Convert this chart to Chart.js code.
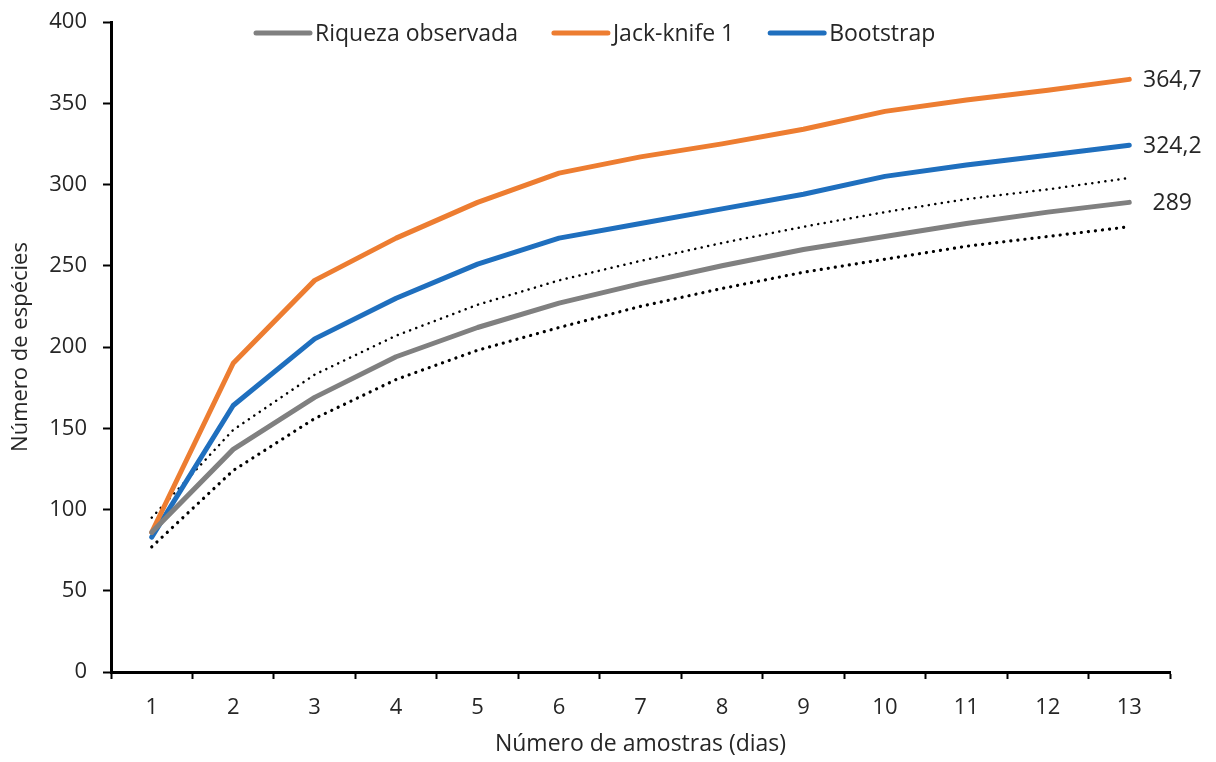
<!DOCTYPE html>
<html lang="pt-BR">
<head>
<meta charset="utf-8">
<title>Curva de acumulação de espécies</title>
<script src="https://cdn.jsdelivr.net/npm/chart.js@4.4.1/dist/chart.umd.min.js"></script>
<style>
  html, body { margin: 0; padding: 0; background: #fff; }
  #wrap { width: 1216px; height: 762px; }
</style>
</head>
<body>
<div id="wrap"><canvas id="graficoCurva" width="1216" height="762"></canvas></div>
<script>
// dias de amostragem
const amostras = ["1", "2", "3", "4", "5", "6", "7", "8", "9", "10", "11", "12", "13"];

// riqueza observada e estimadores
const riquezaObservada = [86, 137, 169, 194, 212, 227, 239, 250, 260, 268, 276, 283, 289];
const jackknife1 = [86, 190, 241, 267, 289, 307, 317, 325, 334, 345, 352, 358, 364.7];
const bootstrap = [83, 164, 205, 230, 251, 267, 276, 285, 294, 305, 312, 318, 324.2];

// intervalo de confiança da riqueza observada
const icSuperior = [95, 149, 183, 207, 226, 241, 253, 264, 274, 283, 291, 297, 304];
const icInferior = [77, 124, 156, 180, 198, 212, 225, 236, 246, 254, 262, 268, 274];

const ticksY = [0, 50, 100, 150, 200, 250, 300, 350, 400];

const fonte = "'Open Sans', 'Noto Sans', sans-serif";
const corTexto = "#262626";

// escreve o último valor das séries principais à direita da linha
const rotuloFinal = {
  id: "rotuloFinal",
  afterDatasetsDraw(chart) {
    const ctx = chart.ctx;
    ctx.save();
    ctx.font = "23px " + fonte;
    ctx.fillStyle = corTexto;
    ctx.textAlign = "center";
    ctx.textBaseline = "middle";
    chart.data.datasets.forEach((ds, i) => {
      if (!ds.rotulo) return;
      const meta = chart.getDatasetMeta(i);
      const ponto = meta.data[meta.data.length - 1];
      const valor = ds.data[ds.data.length - 1];
      ctx.fillText(valor.toLocaleString("pt-BR"), ponto.x + 43, ponto.y + 1);
    });
    ctx.restore();
  }
};

// legenda em linha no topo, dentro da área do gráfico (só as três séries)
const legendaTopo = {
  id: "legendaTopo",
  afterDraw(chart) {
    const ctx = chart.ctx;
    const y = chart.chartArea.top + 11;
    let x = 256;
    ctx.save();
    ctx.font = "23px " + fonte;
    ctx.textBaseline = "middle";
    ctx.textAlign = "left";
    chart.data.datasets.forEach(ds => {
      if (!ds.rotulo) return;
      ctx.strokeStyle = ds.borderColor;
      ctx.lineWidth = 5;
      ctx.lineCap = "round";
      ctx.beginPath();
      ctx.moveTo(x, y);
      ctx.lineTo(x + 54, y);
      ctx.stroke();
      x += 59;
      ctx.fillStyle = corTexto;
      ctx.fillText(ds.label, x, y + 1);
      x += ctx.measureText(ds.label).width + 36;
    });
    ctx.restore();
  }
};

const ctx = document.getElementById("graficoCurva").getContext("2d");

new Chart(ctx, {
  type: "line",
  data: {
    labels: amostras,
    datasets: [
      {
        label: "Riqueza observada",
        data: riquezaObservada,
        borderColor: "#808080",
        backgroundColor: "#808080",
        borderWidth: 5,
        rotulo: true
      },
      {
        label: "Jack-knife 1",
        data: jackknife1,
        borderColor: "#ED7D31",
        backgroundColor: "#ED7D31",
        borderWidth: 5,
        rotulo: true
      },
      {
        label: "Bootstrap",
        data: bootstrap,
        borderColor: "#1F6FBE",
        backgroundColor: "#1F6FBE",
        borderWidth: 5,
        rotulo: true
      },
      {
        label: "IC superior",
        data: icSuperior,
        borderColor: "#000",
        borderWidth: 2.5,
        borderDash: [0.1, 6.5]
      },
      {
        label: "IC inferior",
        data: icInferior,
        borderColor: "#000",
        borderWidth: 3.2,
        borderDash: [0.1, 7]
      }
    ]
  },
  options: {
    responsive: false,
    animation: false,
    layout: { padding: { top: 22, right: 46, left: 0, bottom: 0 } },
    elements: {
      point: { radius: 0, hoverRadius: 0 },
      line: { tension: 0, borderCapStyle: "round", borderJoinStyle: "round" }
    },
    plugins: {
      tooltip: { enabled: false },
      legend: { display: false }
    },
    scales: {
      x: {
        offset: true,
        grid: {
          offset: true,
          drawOnChartArea: false,
          drawTicks: true,
          tickLength: 7,
          tickWidth: 2,
          tickColor: "#000"
        },
        border: { color: "#000", width: 3 },
        ticks: { color: corTexto, font: { family: fonte, size: 22 }, padding: 16 },
        title: {
          display: true,
          text: "Número de amostras (dias)",
          color: corTexto,
          font: { family: fonte, size: 23 },
          padding: { top: 2 }
        },
        afterFit(scale) { scale.height = 90; }
      },
      y: {
        min: 0,
        max: 400,
        afterBuildTicks(scale) { scale.ticks = ticksY.map(v => ({ value: v })); },
        grid: {
          drawOnChartArea: false,
          drawTicks: true,
          tickLength: 8,
          tickWidth: 2,
          tickColor: "#000"
        },
        border: { color: "#000", width: 3 },
        ticks: { color: corTexto, font: { family: fonte, size: 22 }, padding: 16 },
        title: {
          display: true,
          text: "Número de espécies",
          color: corTexto,
          font: { family: fonte, size: 22 },
          padding: { top: 8, bottom: 0 }
        },
        afterFit(scale) {
          scale.width = 111;
          scale.paddingTop = 0;
          scale.paddingBottom = 0;
        }
      }
    }
  },
  plugins: [rotuloFinal, legendaTopo]
});
</script>
</body>
</html>
